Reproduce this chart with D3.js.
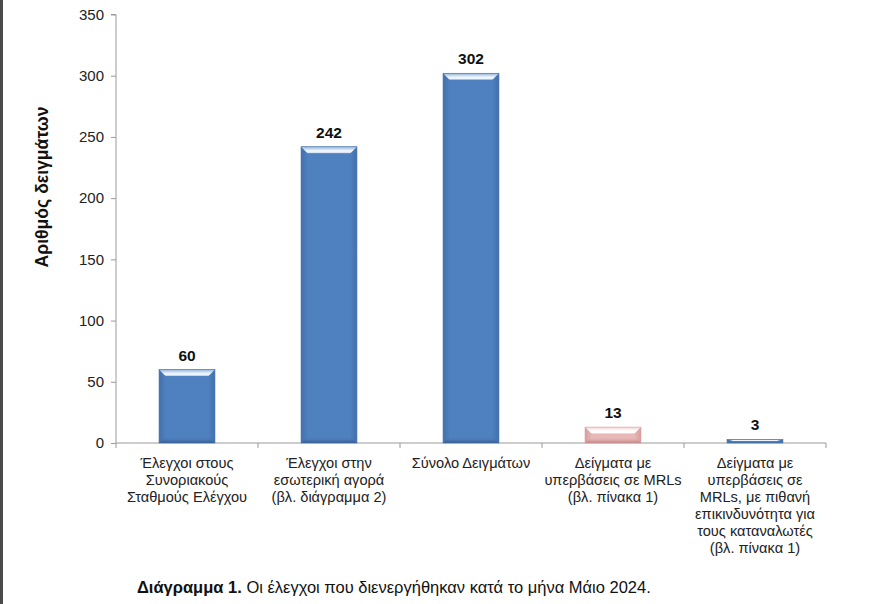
<!DOCTYPE html>
<html><head><meta charset="utf-8">
<script src="https://cdn.jsdelivr.net/npm/d3@7"></script>
<style>
html,body{margin:0;padding:0;background:#fff;}
svg{display:block;font-family:"Liberation Sans",Arial,sans-serif;}
</style></head>
<body>
<svg id="c" width="880" height="604"></svg>
<script>
const categories = [
  ["Έλεγχοι στους","Συνοριακούς","Σταθμούς Ελέγχου"],
  ["Έλεγχοι στην","εσωτερική αγορά","(βλ. διάγραμμα 2)"],
  ["Σύνολο Δειγμάτων"],
  ["Δείγματα με","υπερβάσεις σε MRLs","(βλ. πίνακα 1)"],
  ["Δείγματα με","υπερβάσεις σε","MRLs, με πιθανή","επικινδυνότητα για","τους καταναλωτές","(βλ. πίνακα 1)"]
];
const values = [60, 242, 302, 13, 3];
const barColors = ["blue","blue","blue","pink","blue"];
const yTicks = [0,50,100,150,200,250,300,350];
const yTitle = "Αριθμός δειγμάτων";
const captionBold = "Διάγραμμα 1.";
const captionRest = " Οι έλεγχοι που διενεργήθηκαν κατά το μήνα Μάιο 2024.";

const svg = d3.select("#c");
svg.append("rect").attr("x",0).attr("y",0).attr("width",3).attr("height",604).attr("fill","#4a4a4a");

const x0 = 116, x1 = 826, yBottom = 443, yTop = 14.5;
const x = d3.scaleBand().domain(d3.range(values.length)).range([x0,x1]).paddingInner(0.606).paddingOuter(0.303);
const y = d3.scaleLinear().domain([0,350]).range([yBottom,yTop]);

const defs = svg.append("defs");
const palettes = {
  blue: {edge:"#4170ab", mid:"#4f80bf", top:"#8fb2de", hi:"#eef4fb", dark:"#34598c"},
  pink: {edge:"#d79d9d", mid:"#e8b8b8", top:"#f3d3d3", hi:"#ffffff", dark:"#b98080"}
};
Object.entries(palettes).forEach(([k,p])=>{
  const g = defs.append("linearGradient").attr("id","h_"+k).attr("x1","0").attr("x2","1").attr("y1","0").attr("y2","0");
  g.append("stop").attr("offset","0").attr("stop-color",p.edge);
  g.append("stop").attr("offset","0.12").attr("stop-color",p.mid);
  g.append("stop").attr("offset","0.88").attr("stop-color",p.mid);
  g.append("stop").attr("offset","1").attr("stop-color",p.edge);
  const t = defs.append("linearGradient").attr("id","t_"+k).attr("x1","0").attr("x2","0").attr("y1","0").attr("y2","1");
  t.append("stop").attr("offset","0").attr("stop-color",p.top);
  t.append("stop").attr("offset","0.55").attr("stop-color",p.hi);
  t.append("stop").attr("offset","0.8").attr("stop-color",p.hi);
  t.append("stop").attr("offset","1").attr("stop-color",p.mid);
  const b = defs.append("linearGradient").attr("id","b_"+k).attr("x1","0").attr("x2","0").attr("y1","0").attr("y2","1");
  b.append("stop").attr("offset","0").attr("stop-color",p.mid).attr("stop-opacity",0);
  b.append("stop").attr("offset","1").attr("stop-color",p.dark);
});

// y axis
const yAxis = d3.axisLeft(y).tickValues(yTicks).tickSize(5).tickPadding(7);
const gy = svg.append("g").attr("transform",`translate(${x0},0)`).call(yAxis);
gy.select(".domain").attr("stroke","#9a9a9a").attr("d",`M-5,${yTop}H0V${yBottom}`);
gy.selectAll(".tick line").attr("stroke","#9a9a9a");
gy.selectAll(".tick text").attr("font-size","15px").attr("fill","#222").attr("font-family","Liberation Sans, Arial, sans-serif");

// x axis line with boundary ticks
const bw = x.step();
svg.append("line").attr("x1",x0).attr("x2",x1).attr("y1",yBottom).attr("y2",yBottom).attr("stroke","#9a9a9a");
d3.range(values.length+1).forEach(i=>{
  const xx = x0 + i*bw;
  svg.append("line").attr("x1",xx).attr("x2",xx).attr("y1",yBottom).attr("y2",yBottom+5).attr("stroke","#9a9a9a");
});

// bars
const bars = svg.append("g");
values.forEach((v,i)=>{
  const k = barColors[i];
  const bx = x(i), w = x.bandwidth(), by = y(v), h = yBottom - y(v);
  const g = bars.append("g");
  g.append("rect").attr("x",bx).attr("y",by).attr("width",w).attr("height",h).attr("fill",`url(#h_${k})`);
  const th = Math.min(7, h*0.5);
  if (h > 1.5) {
    g.append("path").attr("d",`M${bx},${by}H${bx+w}L${bx+w-7},${by+th}H${bx+7}Z`).attr("fill",`url(#t_${k})`);
    const bh = Math.min(6, h*0.5);
    g.append("path").attr("d",`M${bx+6},${yBottom-bh}H${bx+w-6}L${bx+w},${yBottom}H${bx}Z`).attr("fill",`url(#b_${k})`);
  }
  g.append("rect").attr("x",bx).attr("y",by).attr("width",w).attr("height",h).attr("fill","none")
    .attr("stroke", k==="pink" ? "#d9a0a0" : "#4a78b0").attr("stroke-width",0.6);
  svg.append("text").attr("x",bx+w/2).attr("y",by-9).attr("text-anchor","middle")
    .attr("font-size","15.5px").attr("font-weight","bold").attr("fill","#111").text(v);
});

// category labels
categories.forEach((lines,i)=>{
  const t = svg.append("text").attr("x",x(i)+x.bandwidth()/2).attr("y",468).attr("text-anchor","middle")
    .attr("font-size","14.6px").attr("fill","#222");
  lines.forEach((l,j)=>t.append("tspan").attr("x",x(i)+x.bandwidth()/2).attr("y",468+j*17).text(l));
});

// y title
svg.append("text").attr("transform","translate(48,187) rotate(-90)").attr("text-anchor","middle")
  .attr("font-size","17.6px").attr("font-weight","bold").attr("fill","#111").text(yTitle);

// caption
const cap = svg.append("text").attr("x",137).attr("y",593).attr("font-size","16.5px").attr("fill","#111");
cap.append("tspan").attr("font-weight","bold").text(captionBold);
cap.append("tspan").text(captionRest);
</script>
</body></html>
